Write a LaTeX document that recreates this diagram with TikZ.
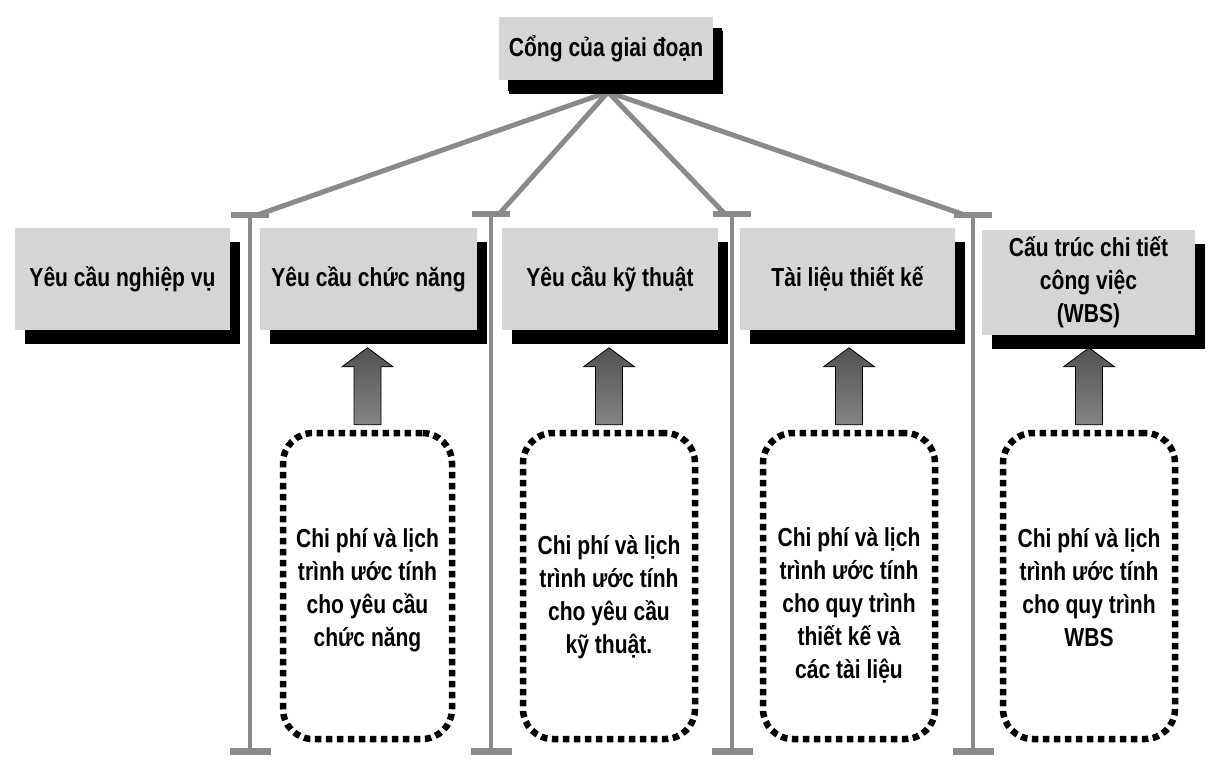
\documentclass[tikz,border=0pt]{standalone}
\usepackage{fontspec}
\newfontfamily\narrowsans{Liberation Sans}[FakeStretch=0.81]
\usetikzlibrary{calc,shadows}
\definecolor{boxgray}{HTML}{D5D5D5}
\definecolor{polegray}{HTML}{8A8A8A}
\tikzset{
  labelfont/.style={font=\narrowsans\bfseries\fontsize{26}{33}\selectfont},
  titlebox/.style={labelfont, fill=boxgray, minimum width=215pt, minimum height=102pt,
    inner sep=2pt, align=center,
    drop shadow={shadow xshift=10pt, shadow yshift=-14pt, fill=black, opacity=1}},
  gatebox/.style={titlebox, minimum width=214pt, minimum height=63pt,
    drop shadow={shadow xshift=9pt, shadow yshift=-11pt, fill=black, opacity=1}},
  dotbox/.style={draw=black, line width=6.5pt, dash pattern=on 6.5pt off 4.5pt,
    rounded corners=30pt, minimum width=169pt, minimum height=306pt},
  bodytext/.style={labelfont, align=center, inner sep=0pt},
  pole/.style={draw=polegray, line width=4.5pt},
  crossbar/.style={draw=polegray, line width=6pt},
  fan/.style={draw=polegray, line width=5pt, line cap=round},
  fatarrow/.style={draw=black, line width=0.8pt, shading=axis,
    top color=black!68, bottom color=black!48},
}
% thick upward arrow from the top of a dotted box towards the box above it
\newcommand\fatup[1]{%
  \draw[fatarrow] ($(#1.north)+(-13.5,-5)$) -- ++(0,-58) -- ++(-12,0)
    -- ++(25.5,-19) -- ++(25.5,19) -- ++(-12,0) -- ++(0,58) -- cycle;}
\begin{document}
\begin{tikzpicture}[x=1pt,y=-1pt]
\useasboundingbox (0,0) rectangle (1209,764);

% posts
\coordinate (t1) at (250,215); \coordinate (f1) at (250,751);
\coordinate (t2) at (491,214); \coordinate (f2) at (491,751);
\coordinate (t3) at (732,214); \coordinate (f3) at (732,751);
\coordinate (t4) at (973,215); \coordinate (f4) at (973,751);
\foreach \i in {1,2,3,4}{
  \draw[pole] (t\i) -- (f\i);
  \draw[crossbar] ($(t\i)+(-19,0)$) -- ($(t\i)+(19,0)$);
  \draw[crossbar, line width=7pt] ($(f\i)+(-20,0)$) -- ($(f\i)+(21,0)$);
}

% gate and the fan of supports
\coordinate (apex) at (608,92);
\draw[fan] (apex) -- ($(t1)+(10,-1)$);
\draw[fan] (apex) -- ($(t2)+(9,-1)$);
\draw[fan] (apex) -- ($(t3)+(-8,-1)$);
\draw[fan] (apex) -- ($(t4)+(-11,-1)$);
\node[gatebox] (gate) at (606,48.5) {Cổng của giai đoạn};

% deliverables
\node[titlebox] (b1) at (122.5,279) {Yêu cầu nghiệp vụ};
\node[titlebox, minimum width=217pt] (b2) at (368.5,279) {Yêu cầu chức năng};
\node[titlebox, minimum width=216pt] (b3) at (610,279) {Yêu cầu kỹ thuật};
\node[titlebox] (b4) at (847.5,279) {Tài liệu thiết kế};
\node[titlebox, minimum width=213pt, minimum height=105pt] (b5) at (1088.5,282)
  {Cấu trúc chi tiết\\công việc\\(WBS)};

% estimates
\node[dotbox] (d2) at (367.5,586) {};
\node[dotbox, minimum width=172pt] (d3) at (609,586) {};
\node[dotbox, minimum width=172pt] (d4) at (849,586) {};
\node[dotbox, minimum width=172pt] (d5) at (1089,586) {};

\node[bodytext] (e2) at ($(d2.center)+(0,4)$)
  {Chi phí và lịch\\trình ước tính\\cho yêu cầu\\chức năng};
\node[bodytext] (e3) at ($(d3.center)+(0,11)$)
  {Chi phí và lịch\\trình ước tính\\cho yêu cầu\\kỹ thuật.};
\node[bodytext] (e4) at ($(d4.center)+(0,19)$)
  {Chi phí và lịch\\trình ước tính\\cho quy trình\\thiết kế và\\các tài liệu};
\node[bodytext] (e5) at ($(d5.center)+(0,2)$)
  {Chi phí và lịch\\trình ước tính\\cho quy trình\\WBS};

\fatup{d2}
\fatup{d3}
\fatup{d4}
\fatup{d5}
\end{tikzpicture}
\end{document}
